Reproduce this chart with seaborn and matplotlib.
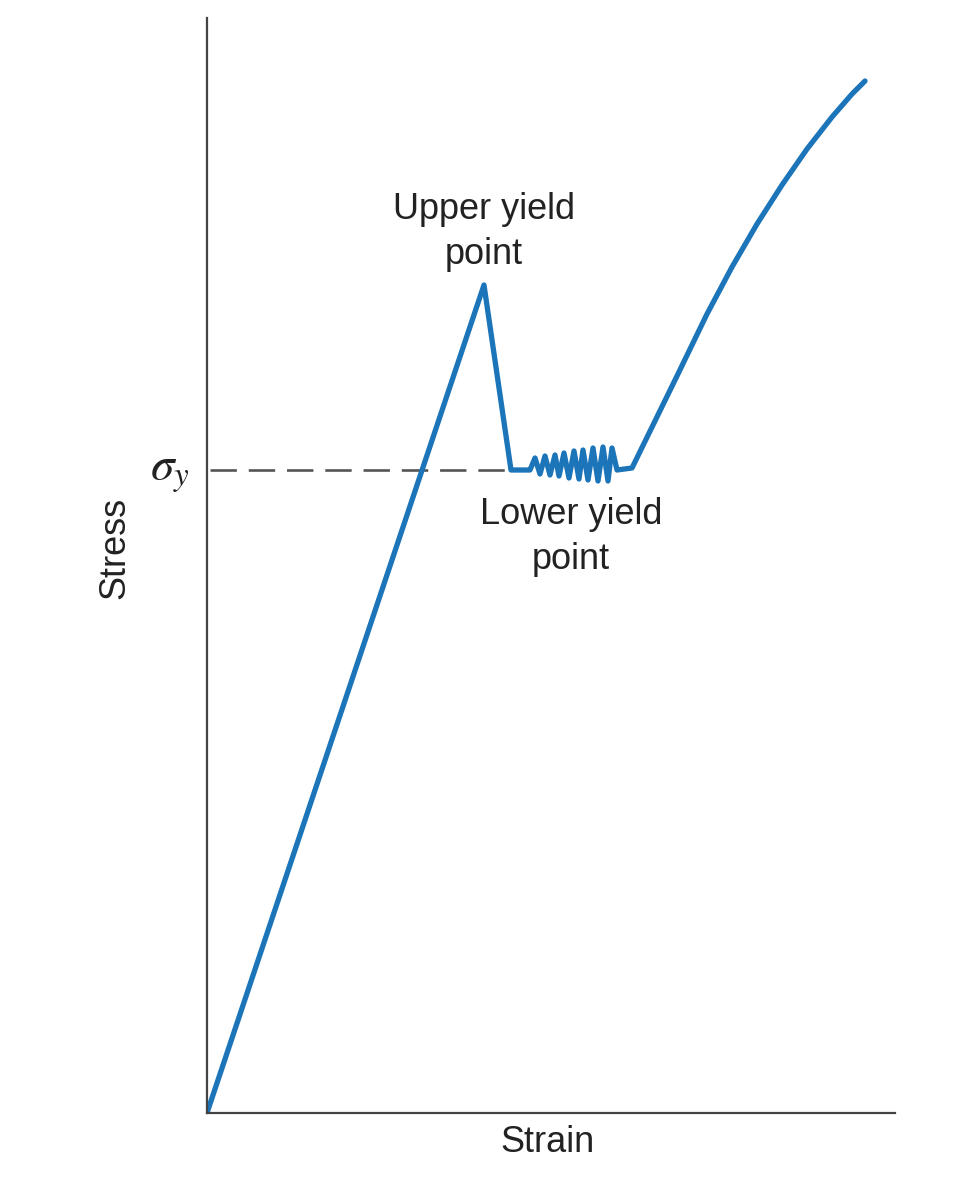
import numpy as np
import pandas as pd
import seaborn as sns
import matplotlib
matplotlib.use("Agg")
import matplotlib.pyplot as plt

# curve (arbitrary units, origin at the axes corner)
strain = [0, 277, 304, 320,
          323, 328, 333, 338, 343, 348, 352, 357, 362, 367,
          372, 376, 381, 386, 391, 396, 401, 405, 410,
          425, 470, 500, 525, 550, 575, 600, 625, 645, 658]
stress = [0, 828, 643, 643,
          643, 655, 639, 657, 638, 658, 637, 660, 635, 662,
          634, 663, 633, 665, 632, 666, 632, 665, 643,
          645, 737, 799, 846, 889, 928, 964, 996, 1019, 1032]

sigma_y = 643
dash_x = [3, 304]

df = pd.DataFrame({"strain": strain, "stress": stress})

sns.set_style("white")
plt.rcParams["font.family"] = ["Liberation Sans", "DejaVu Sans"]
plt.rcParams["mathtext.fontset"] = "stix"

fig = plt.figure(figsize=(9.74, 12), dpi=100)
ax = fig.add_axes([0.2125, 0.0725, 0.7064, 0.9125])

blue = "#1c74b9"
sns.lineplot(data=df, x="strain", y="stress", sort=False, estimator=None,
             color=blue, linewidth=3.8, ax=ax, solid_joinstyle="round",
             solid_capstyle="round")
ax.plot(dash_x, [sigma_y, sigma_y], color="#555555", linewidth=1.9,
        dashes=(10, 4.5), zorder=1)

ax.set_xlim(0, 688)
ax.set_ylim(0, 1095)
ax.set_xticks([])
ax.set_yticks([])
ax.set_xlabel("")
ax.set_ylabel("")
for s in ["top", "right"]:
    ax.spines[s].set_visible(False)
for s in ["left", "bottom"]:
    ax.spines[s].set_color("#444444")
    ax.spines[s].set_linewidth(1.6)

txt = "#222222"
ax.text(277, 881, "Upper yield\npoint", ha="center", va="center",
        fontsize=26, color=txt, linespacing=1.38)
ax.text(364, 576, "Lower yield\npoint", ha="center", va="center",
        fontsize=26, color=txt, linespacing=1.38)
ax.text(-92, 565, "Stress", rotation=90, ha="center", va="center",
        fontsize=26, color=txt, clip_on=False)
ax.text(341, -30, "Strain", ha="center", va="center",
        fontsize=26, color=txt, clip_on=False)
ax.text(-37, 640, r"$\sigma_y$", ha="center", va="center",
        fontsize=34, color=txt, clip_on=False)

plt.savefig("out.png", dpi=100)
